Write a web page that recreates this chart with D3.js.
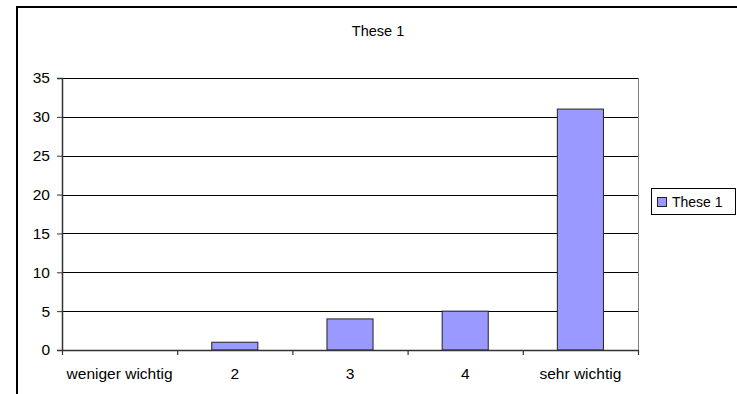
<!DOCTYPE html>
<html>
<head>
<meta charset="utf-8">
<script src="https://cdn.jsdelivr.net/npm/d3@7"></script>
<style>
  html, body { margin: 0; padding: 0; background: #fff; }
  svg { display: block; font-family: "Liberation Sans", Arial, sans-serif; }
</style>
</head>
<body>
<svg id="chart" width="737" height="394"></svg>
<script>
// Survey answers for "These 1" on a five-step importance scale
const categories = ["weniger wichtig", "2", "3", "4", "sehr wichtig"];
const seriesName = "These 1";
const values = [0, 1, 4, 5, 31];
const yTicks = [0, 5, 10, 15, 20, 25, 30, 35];

const svg = d3.select("#chart");
const W = 737, H = 394;
const plot = { left: 62, right: 638, top: 78, bottom: 350 };

// Chart frame (only left and top edges fall inside the canvas)
svg.append("rect")
  .attr("x", 17).attr("y", 7)
  .attr("width", W + 20).attr("height", H + 20)
  .attr("fill", "#fff").attr("stroke", "#000").attr("stroke-width", 2);

// Title
svg.append("text")
  .attr("x", 378).attr("y", 35.5)
  .attr("text-anchor", "middle")
  .attr("font-size", 14.5)
  .attr("fill", "#000")
  .text(seriesName);

const x = d3.scaleBand().domain(categories)
  .range([plot.left, plot.right]).paddingInner(0).paddingOuter(0);
const y = d3.scaleLinear().domain([0, 35]).range([plot.bottom, plot.top]);

// Horizontal gridlines
svg.append("g").selectAll("line")
  .data(yTicks.filter(d => d > 0))
  .join("line")
  .attr("x1", plot.left).attr("x2", plot.right)
  .attr("y1", d => Math.round(y(d)) + 0.5).attr("y2", d => Math.round(y(d)) + 0.5)
  .attr("stroke", "#000").attr("stroke-width", 1);

// Right edge of plot area
svg.append("line")
  .attr("x1", plot.right + 0.5).attr("x2", plot.right + 0.5)
  .attr("y1", plot.top).attr("y2", plot.bottom)
  .attr("stroke", "#808080").attr("stroke-width", 1);

// Bars
const barW = x.bandwidth() / 2.5;
svg.append("g").selectAll("rect")
  .data(values.map((v, i) => ({ c: categories[i], v })).filter(d => d.v > 0))
  .join("rect")
  .attr("x", d => x(d.c) + (x.bandwidth() - barW) / 2)
  .attr("y", d => y(d.v))
  .attr("width", barW)
  .attr("height", d => y(0) - y(d.v))
  .attr("fill", "#9999FF")
  .attr("stroke", "#222").attr("stroke-width", 1);

// Y axis
const yAxis = svg.append("g")
  .attr("transform", `translate(${plot.left},0)`)
  .call(d3.axisLeft(y).tickValues(yTicks).tickSize(5).tickPadding(7).tickFormat(d3.format("d")));
yAxis.select(".domain").attr("stroke", "#333").attr("stroke-width", 1.5);
yAxis.selectAll(".tick line").attr("stroke", "#333");
yAxis.selectAll("text").attr("font-size", 15.5).attr("fill", "#000")
  .attr("font-family", "Liberation Sans, Arial, sans-serif");

// X axis baseline with ticks between categories
const xg = svg.append("g");
xg.append("line")
  .attr("x1", plot.left).attr("x2", plot.right)
  .attr("y1", plot.bottom + 0.5).attr("y2", plot.bottom + 0.5)
  .attr("stroke", "#333").attr("stroke-width", 1.5);
const boundaries = categories.map(c => x(c)).concat([plot.right]);
xg.selectAll("line.tk").data(boundaries).join("line").attr("class", "tk")
  .attr("x1", d => d + 0.5).attr("x2", d => d + 0.5)
  .attr("y1", plot.bottom).attr("y2", plot.bottom + 5)
  .attr("stroke", "#333").attr("stroke-width", 1.2);
xg.selectAll("text").data(categories).join("text")
  .attr("x", d => x(d) + x.bandwidth() / 2)
  .attr("y", 379)
  .attr("text-anchor", "middle")
  .attr("font-size", 15.5)
  .attr("fill", "#000")
  .text(d => d);

// Legend
const lg = svg.append("g");
lg.append("rect")
  .attr("x", 651.5).attr("y", 188.5).attr("width", 84).attr("height", 26)
  .attr("fill", "#fff").attr("stroke", "#000").attr("stroke-width", 1);
lg.append("rect")
  .attr("x", 657.5).attr("y", 197.5).attr("width", 9).attr("height", 9)
  .attr("fill", "#9999FF").attr("stroke", "#222").attr("stroke-width", 1);
lg.append("text")
  .attr("x", 672).attr("y", 207)
  .attr("font-size", 14)
  .attr("fill", "#000")
  .text(seriesName);
</script>
</body>
</html>
